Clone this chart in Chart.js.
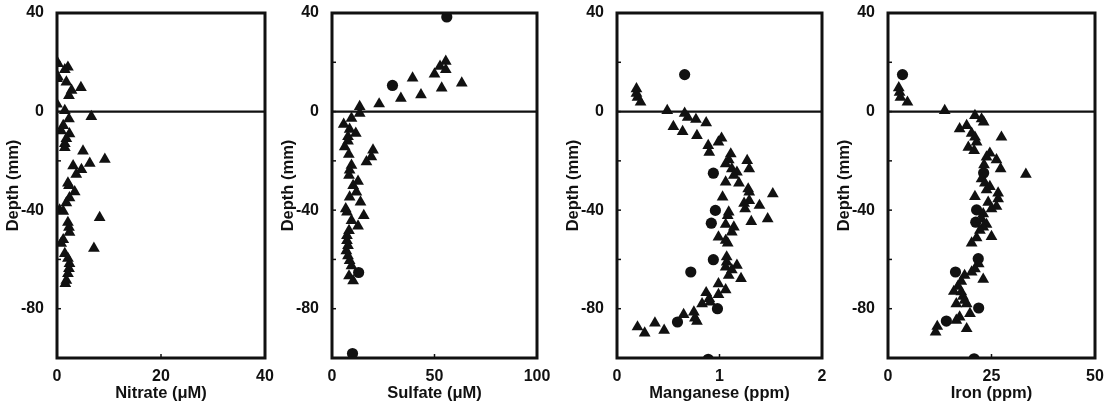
<!DOCTYPE html>
<html>
<head>
<meta charset="utf-8">
<script src="https://cdn.jsdelivr.net/npm/chart.js@4"></script>
<style>
  html, body { margin: 0; padding: 0; background: #fff; }
  #wrap { position: relative; width: 1115px; height: 407px; }
  .panel { position: absolute; top: 0; width: 280px; height: 407px; }
</style>
</head>
<body>
<div id="wrap">
  <div class="panel" style="left:0px"><canvas id="c1"></canvas></div>
  <div class="panel" style="left:275px"><canvas id="c2"></canvas></div>
  <div class="panel" style="left:560px"><canvas id="c3"></canvas></div>
  <div class="panel" style="left:831px"><canvas id="c4"></canvas></div>
</div>
<script>
// depth axis, shared by all panels
const depthMin = -100;
const depthMax = 40;
const depthStep = 20;
const depthLabels = [40, 0, -40, -80];

// [value, depth mm]
const nitrateTri = [
  [0.2, 19.5], [2.1, 18], [1.5, 17], [0.2, 14], [0, 13.4], [1.8, 12], [4.6, 9.7],
  [2.8, 8.6], [2.3, 6.5], [0, 3], [1.5, 0.4], [6.6, -2], [2.3, -3], [1.2, -5.7],
  [0.8, -7.8], [2.4, -9], [1.8, -11], [1.5, -13], [1.5, -14.6], [5, -16], [9.2, -19.4],
  [6.3, -21], [3.1, -22], [4.7, -23.5], [3.7, -25.5], [2.1, -29], [2.3, -30],
  [3.4, -32.6], [2.4, -35], [1.8, -37], [0.5, -40], [1.2, -40.5], [8.2, -43],
  [2.1, -45], [2.3, -47], [2.4, -49], [1.2, -52], [0.8, -53.5], [7.1, -55.5],
  [1.5, -57.6], [2.1, -59.6], [2.4, -61.7], [2.3, -63.7], [2.1, -65.8], [1.8, -68.5],
  [1.6, -69.8]
];
const nitrateDot = [];

const sulfateTri = [
  [55.5, 20.4], [52.7, 18.4], [55.5, 17], [50, 15.2], [39.3, 13.6], [63.3, 11.6],
  [53.5, 9.5], [43.4, 6.8], [33.6, 5.4], [23, 3.1], [13.5, 2], [13.5, -0.7],
  [9.5, -2.7], [5.7, -5.2], [8.6, -7.2], [11.6, -8.8], [7.8, -10.2], [7.8, -12],
  [6.2, -14.3], [20, -15.6], [8.2, -17.4], [19.2, -18.4], [16.8, -20.4], [9.5, -21.8],
  [8.6, -23.8], [8.3, -25.9], [12.7, -28.3], [10.3, -30], [11.9, -32.7], [8.6, -34.7],
  [13.9, -36.7], [6.7, -39.5], [7.3, -40.8], [15.5, -42.2], [9.5, -44.2], [12.7, -46.5],
  [8.3, -48.3], [7.3, -50.3], [7.3, -52.4], [7.8, -54.4], [7.0, -56.5], [7.8, -58.5],
  [8.6, -60.5], [9.5, -62.6], [8.3, -66.7], [10.3, -68.7]
];
const sulfateDot = [[56, 38.4], [29.5, 10.6], [13, -65.3], [10, -98.2]];

const manganeseTri = [
  [0.19, 9.2], [0.19, 7.4], [0.2, 5.8], [0.23, 3.8], [0.49, 0.4], [0.66, -0.7],
  [0.69, -2.3], [0.77, -3.2], [0.87, -4.6], [0.55, -6.1], [0.64, -8.1], [0.78, -9.7],
  [1.02, -10.8], [0.99, -12.4], [0.89, -13.8], [0.9, -16.5], [1.11, -17.2], [1.09, -19.6],
  [1.27, -19.9], [1.06, -21.2], [1.12, -23.2], [1.29, -23.2], [1.17, -24.6], [1.14, -25.9],
  [1.06, -28.6], [1.19, -29], [1.28, -31.4], [1.29, -32.7], [1.52, -33.4], [1.03, -34.7],
  [1.29, -36.1], [1.24, -37.2], [1.39, -38.1], [1.25, -39.5], [1.09, -40.8], [1.08, -42.2],
  [1.47, -43.5], [1.31, -44.6], [1.06, -45.8], [1.14, -46.9], [1.12, -48.9], [0.99, -50.9],
  [1.06, -52.3], [1.08, -53.4], [1.07, -59], [1.07, -61.1], [1.17, -62.4], [1.06, -63.1],
  [1.12, -64.2], [1.09, -66.5], [1.21, -67.8], [0.99, -69.9], [1.06, -72.3], [0.87, -73.5],
  [0.99, -74.3], [0.9, -75.9], [0.91, -77.3], [0.83, -78], [0.75, -81.4], [0.65, -82.4],
  [0.76, -83.8], [0.78, -85.1], [0.37, -85.8], [0.2, -87.4], [0.46, -88.8], [0.27, -89.9]
];
const manganeseDot = [
  [0.66, 15], [0.94, -25], [0.96, -40.1], [0.92, -45.3], [0.94, -60.1], [0.72, -65.1],
  [0.98, -80], [0.59, -85.4], [0.89, -100.5]
];

const ironTri = [
  [2.6, 9.6], [2.8, 7.8], [3, 5.8], [4.7, 3.8], [13.7, 0.4], [21, -1.6], [22.6, -3],
  [23.1, -4.3], [19, -5.7], [17.3, -7], [20.2, -8.8], [27.4, -10.4], [21, -10.4],
  [21.4, -12.4], [19.4, -14.5], [20.8, -15.8], [24.6, -16.9], [23.8, -18.5], [26.2, -19.6],
  [23.2, -21.6], [27.2, -23.2], [33.3, -25.5], [22.6, -27.3], [23.4, -29], [24.6, -30.4],
  [23.8, -31.8], [26.6, -33.1], [21, -34.5], [26.6, -35.4], [24.2, -36.8], [26.2, -38.5],
  [25, -39.5], [23, -41.5], [22.6, -43.5], [23.8, -45.8], [23, -46.9], [22.2, -48.2],
  [25, -50.7], [21.4, -51.2], [20.2, -53.4], [21.9, -61.8], [21, -63.8], [20.2, -65.1],
  [23, -68.1], [18.5, -66.5], [17.7, -68.9], [16.9, -70.9], [15.9, -73], [17.7, -73.2],
  [18.1, -75], [18.5, -76.6], [16.5, -78], [19, -78], [19.8, -82], [17.3, -83.4],
  [16.5, -84.7], [19, -88.1], [11.9, -87.2], [11.5, -89.5]
];
const ironDot = [
  [3.5, 15], [23.1, -24.9], [21.4, -39.9], [21.2, -44.9], [21.8, -59.7], [16.3, -65.1],
  [21.9, -79.7], [14.1, -85], [20.8, -100.3]
];

const panels = [
  { id: 'c1', title: 'Nitrate (\u03bcM)', max: 40, step: 20, tri: nitrateTri, dot: nitrateDot, padR: 15 },
  { id: 'c2', title: 'Sulfate (\u03bcM)', max: 100, step: 50, tri: sulfateTri, dot: sulfateDot, padR: 18 },
  { id: 'c3', title: 'Manganese (ppm)', max: 2, step: 1, tri: manganeseTri, dot: manganeseDot, padR: 18 },
  { id: 'c4', title: 'Iron (ppm)', max: 50, step: 25, tri: ironTri, dot: ironDot, padR: 16 }
];

const FONT = "'Liberation Sans', Arial, sans-serif";
const INK = '#111';

// frame, inward ticks and the zero line
const framePlugin = {
  id: 'frame',
  afterDatasetsDraw(chart) {
    const { ctx, chartArea: a, scales } = chart;
    ctx.save();
    ctx.strokeStyle = INK;
    ctx.lineWidth = 1.5;
    scales.y.ticks.forEach(t => {
      const py = scales.y.getPixelForValue(t.value);
      ctx.beginPath(); ctx.moveTo(a.left, py); ctx.lineTo(a.left + 4, py); ctx.stroke();
    });
    scales.x.ticks.forEach(t => {
      const px = scales.x.getPixelForValue(t.value);
      ctx.beginPath(); ctx.moveTo(px, a.bottom); ctx.lineTo(px, a.bottom - 4); ctx.stroke();
    });
    const zy = scales.y.getPixelForValue(0);
    ctx.lineWidth = 2.2;
    ctx.beginPath(); ctx.moveTo(a.left, zy); ctx.lineTo(a.right, zy); ctx.stroke();
    ctx.lineWidth = 3;
    ctx.strokeRect(a.left, a.top, a.right - a.left, a.bottom - a.top);
    ctx.restore();
  }
};

const toPts = arr => arr.map(([x, y]) => ({ x, y }));

panels.forEach(p => {
  new Chart(document.getElementById(p.id), {
    type: 'scatter',
    data: {
      datasets: [
        { data: toPts(p.tri), pointStyle: 'triangle', pointRadius: 6.8,
          backgroundColor: INK, borderColor: INK, borderWidth: 0 },
        { data: toPts(p.dot), pointStyle: 'circle', pointRadius: 5.6,
          backgroundColor: INK, borderColor: INK, borderWidth: 0 }
      ]
    },
    options: {
      responsive: true,
      maintainAspectRatio: false,
      animation: false,
      layout: { padding: { top: 13, right: p.padR, left: 0, bottom: 0 } },
      plugins: { legend: { display: false }, tooltip: { enabled: false } },
      scales: {
        x: {
          type: 'linear', min: 0, max: p.max,
          grid: { display: false },
          border: { display: false },
          ticks: { stepSize: p.step, color: INK, padding: 1, maxRotation: 0,
                   font: { family: FONT, size: 16, weight: 'bold' } },
          title: { display: true, text: p.title, color: INK, padding: { top: 1 },
                   font: { family: FONT, size: 16.5, weight: 'bold' } },
          afterFit: s => { s.height = 49; s.paddingLeft = 0; s.paddingRight = 0; }
        },
        y: {
          type: 'linear', min: depthMin, max: depthMax,
          grid: { display: false },
          border: { display: false },
          ticks: { stepSize: depthStep, color: INK, padding: 5,
                   font: { family: FONT, size: 16, weight: 'bold' },
                   callback: v => depthLabels.includes(v) ? String(v) : '' },
          title: { display: true, text: 'Depth (mm)', color: INK, padding: { bottom: 1 },
                   font: { family: FONT, size: 16.5, weight: 'bold' } },
          afterFit: s => { s.width = 57; s.paddingTop = 0; s.paddingBottom = 0; }
        }
      }
    },
    plugins: [framePlugin]
  });
});
</script>
</body>
</html>
